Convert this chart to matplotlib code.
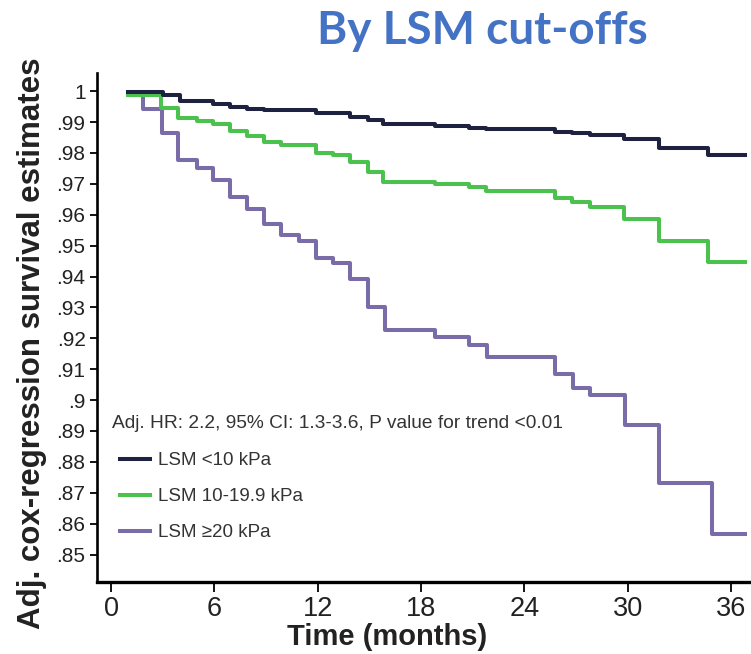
import matplotlib
matplotlib.use("Agg")
import matplotlib.pyplot as plt

# survival step data (months, estimate)
t_low = [1.0, 3.0, 4.0, 5.9, 6.9, 7.9, 8.9, 11.9, 13.9, 14.9, 15.8, 18.8, 20.8,
         21.8, 25.8, 26.8, 27.8, 29.8, 31.8, 34.7, 36.8]
s_low = [0.9998, 0.9987, 0.9969, 0.9958, 0.9949, 0.9943, 0.9939, 0.9928, 0.9917,
         0.9906, 0.9895, 0.9887, 0.9882, 0.9876, 0.9868, 0.9863, 0.9858, 0.9845,
         0.9817, 0.9793, 0.9793]

t_mid = [1.0, 2.9, 3.9, 5.0, 5.9, 6.9, 7.9, 8.9, 9.9, 11.9, 12.9, 13.9, 14.9,
         15.8, 18.8, 20.8, 21.8, 25.8, 26.8, 27.8, 29.8, 31.8, 34.7, 36.8]
s_mid = [0.9988, 0.9944, 0.9912, 0.9904, 0.9893, 0.9871, 0.9854, 0.9836, 0.9825,
         0.9800, 0.9793, 0.9771, 0.9739, 0.9706, 0.9699, 0.9690, 0.9677, 0.9653,
         0.9640, 0.9624, 0.9586, 0.9516, 0.9448, 0.9448]

t_high = [1.0, 1.85, 2.95, 3.9, 5.0, 5.9, 6.9, 7.9, 8.9, 9.9, 10.9, 11.9, 12.9,
          13.9, 14.9, 15.9, 18.8, 20.8, 21.85, 25.8, 26.85, 27.8, 29.85, 31.8,
          34.9, 36.8]
s_high = [0.9986, 0.9941, 0.9863, 0.9777, 0.9750, 0.9714, 0.9658, 0.9620, 0.9570,
          0.9534, 0.9516, 0.9459, 0.9445, 0.9391, 0.9302, 0.9227, 0.9205, 0.9178,
          0.9140, 0.9084, 0.9038, 0.9018, 0.8919, 0.8732, 0.8566, 0.8566]

labels = ["LSM <10 kPa", "LSM 10-19.9 kPa", "LSM \u226520 kPa"]
colors = ["#1e2140", "#4cc24e", "#7a6ca8"]

xticks = [0, 6, 12, 18, 24, 30, 36]
yticks = [1, .99, .98, .97, .96, .95, .94, .93, .92, .91, .9, .89, .88, .87, .86, .85]
ytick_labels = ["1", ".99", ".98", ".97", ".96", ".95", ".94", ".93", ".92", ".91",
                ".9", ".89", ".88", ".87", ".86", ".85"]

plt.rcParams["font.family"] = ["Liberation Sans", "DejaVu Sans"]

fig = plt.figure(figsize=(7.51, 6.54), dpi=100)
ax = fig.add_axes([0.1288, 0.110, 0.8712, 0.778])

l_high, = ax.step(t_high, s_high, where="post", color=colors[2], lw=2.9)
l_mid, = ax.step(t_mid, s_mid, where="post", color=colors[1], lw=2.9)
l_low, = ax.step(t_low, s_low, where="post", color=colors[0], lw=2.9)

ax.set_xlim(-0.83, 37.17)
ax.set_ylim(0.8411, 1.0058)

ax.set_xticks(xticks)
ax.set_xticklabels([str(v) for v in xticks], fontsize=19.5, color="#222222")
ax.set_yticks(yticks)
ax.set_yticklabels(ytick_labels, fontsize=15, color="#222222")
ax.tick_params(axis="y", length=5, width=1.3, pad=3)
ax.tick_params(axis="x", length=7, width=1.3, pad=3)

for side in ["top", "right"]:
    ax.spines[side].set_visible(False)
ax.spines["left"].set_linewidth(1.9)
ax.spines["bottom"].set_linewidth(2.4)

ax.text(0.0234, 0.328, "Adj. HR: 2.2, 95% CI: 1.3-3.6, P value for trend <0.01",
        transform=ax.transAxes, ha="left", va="top", fontsize=13.8, color="#333333")
ax.legend([l_low, l_mid, l_high], labels, loc="upper left", bbox_to_anchor=(0.0356, 0.255),
          frameon=False, fontsize=13.5, handlelength=1.6, handletextpad=0.45,
          labelspacing=1.0, borderpad=0, borderaxespad=0, labelcolor="#333333")

fig.text(0.043, 0.4755, "Adj. cox-regression survival estimates", rotation=90,
         ha="center", va="center", fontsize=22.5, fontweight="bold", color="#222222")
fig.text(0.515, 0.026, "Time (months)", ha="center", va="center",
         fontsize=21, fontweight="bold", color="#222222")
fig.text(0.642, 0.953, "By LSM cut-offs", ha="center", va="center",
         fontfamily="Lato", fontsize=33, fontweight="bold", color="#4472c4")

fig.savefig("out.png", dpi=100)
